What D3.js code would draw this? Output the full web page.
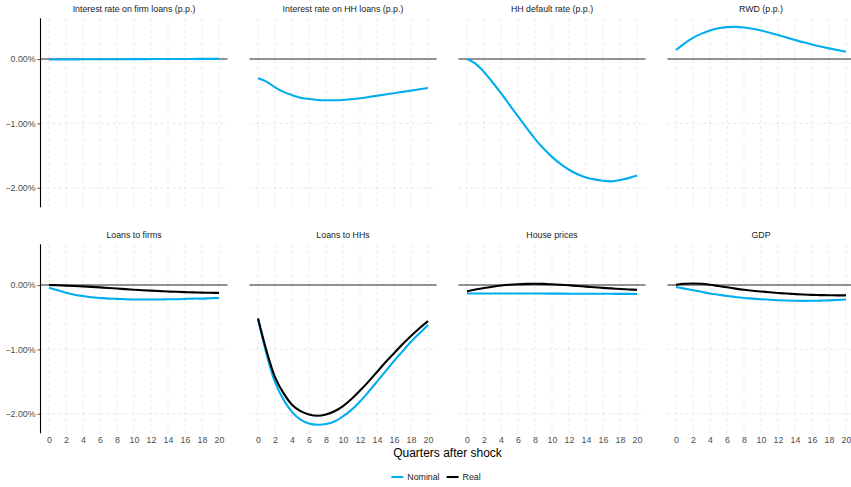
<!DOCTYPE html>
<html>
<head>
<meta charset="utf-8">
<script src="https://cdn.jsdelivr.net/npm/d3@7"></script>
<style>
  html, body { margin: 0; padding: 0; background: #fff; }
  svg { display: block; font-family: "Liberation Sans", Arial, Helvetica, sans-serif; }
</style>
</head>
<body>
<svg id="chart" width="851" height="487"></svg>
<script>
// Quarters after the shock (x axis)
const quarters = d3.range(0, 21);
const xTicks = d3.range(0, 21, 2);
const yTicks = [-2, -1, 0];

const panelTitles = [
  "Interest rate on firm loans (p.p.)", "Interest rate on HH loans (p.p.)", "HH default rate (p.p.)", "RWD (p.p.)",
  "Loans to firms", "Loans to HHs", "House prices", "GDP"
];

// Responses in % (or percentage points), quarters 0..20
const rateFirmNominal = [-0.006, -0.006, -0.005, -0.005, -0.004, -0.004, -0.003, -0.003, -0.002, -0.002, -0.001,
  -0.001, 0.000, 0.000, 0.001, 0.001, 0.002, 0.002, 0.003, 0.003, 0.004];
const rateHHNominal = [-0.30, -0.35, -0.44, -0.51, -0.56, -0.60, -0.62, -0.635, -0.64, -0.64, -0.635,
  -0.625, -0.61, -0.59, -0.57, -0.55, -0.53, -0.51, -0.49, -0.47, -0.45];
const defaultNominal = [0.0, -0.07, -0.20, -0.36, -0.53, -0.71, -0.89, -1.07, -1.24, -1.39, -1.52,
  -1.63, -1.72, -1.79, -1.84, -1.87, -1.89, -1.90, -1.88, -1.85, -1.81];
const rwdNominal = [0.14, 0.245, 0.33, 0.395, 0.445, 0.478, 0.496, 0.50, 0.49, 0.47, 0.443,
  0.41, 0.373, 0.335, 0.297, 0.26, 0.226, 0.195, 0.166, 0.14, 0.115];

const loansFirmsNominal = [-0.04, -0.08, -0.12, -0.15, -0.17, -0.19, -0.20, -0.21, -0.215, -0.22, -0.225,
  -0.225, -0.225, -0.225, -0.22, -0.22, -0.215, -0.21, -0.21, -0.205, -0.20];
const loansFirmsReal = [0.0, -0.003, -0.008, -0.014, -0.02, -0.028, -0.036, -0.045, -0.054, -0.063, -0.072,
  -0.08, -0.087, -0.094, -0.10, -0.105, -0.11, -0.114, -0.117, -0.12, -0.122];
const loansHHNominal = [-0.52, -1.07, -1.51, -1.78, -1.97, -2.09, -2.15, -2.17, -2.16, -2.12, -2.04,
  -1.94, -1.81, -1.66, -1.50, -1.34, -1.18, -1.03, -0.88, -0.75, -0.62];
const loansHHReal = [-0.52, -1.02, -1.43, -1.68, -1.86, -1.96, -2.01, -2.03, -2.01, -1.96, -1.88,
  -1.77, -1.64, -1.50, -1.35, -1.20, -1.06, -0.92, -0.79, -0.67, -0.56];
const housePricesNominal = [-0.13, -0.13, -0.13, -0.13, -0.13, -0.13, -0.131, -0.131, -0.132, -0.132, -0.133,
  -0.133, -0.134, -0.134, -0.135, -0.135, -0.136, -0.136, -0.137, -0.137, -0.138];
const housePricesReal = [-0.095, -0.07, -0.045, -0.025, -0.008, 0.005, 0.013, 0.018, 0.02, 0.018, 0.012,
  0.005, -0.004, -0.014, -0.024, -0.034, -0.044, -0.052, -0.06, -0.068, -0.075];
const gdpNominal = [-0.03, -0.055, -0.08, -0.105, -0.13, -0.15, -0.17, -0.185, -0.20, -0.21, -0.22,
  -0.228, -0.235, -0.24, -0.243, -0.245, -0.244, -0.242, -0.238, -0.232, -0.225];
const gdpReal = [0.005, 0.02, 0.025, 0.02, 0.005, -0.015, -0.035, -0.055, -0.073, -0.088, -0.10,
  -0.112, -0.123, -0.132, -0.14, -0.147, -0.152, -0.156, -0.158, -0.16, -0.16];

const seriesNames = ["Nominal", "Real"];
const seriesColors = { Nominal: "#00aeef", Real: "#000000" };

const panels = [
  { title: panelTitles[0], Nominal: rateFirmNominal },
  { title: panelTitles[1], Nominal: rateHHNominal },
  { title: panelTitles[2], Nominal: defaultNominal },
  { title: panelTitles[3], Nominal: rwdNominal },
  { title: panelTitles[4], Nominal: loansFirmsNominal, Real: loansFirmsReal },
  { title: panelTitles[5], Nominal: loansHHNominal, Real: loansHHReal },
  { title: panelTitles[6], Nominal: housePricesNominal, Real: housePricesReal },
  { title: panelTitles[7], Nominal: gdpNominal, Real: gdpReal }
];

// Facet geometry
const panelLeft = 40.5, colStep = 209, panelW = 187;
const rowTops = [18.3, 244.3], panelH = 189;

// Shared scales with 5% padding like the facet defaults
const xScale = d3.scaleLinear().domain([-1, 21]).range([0, panelW]);
const allVals = panels.flatMap(p => seriesNames.flatMap(s => p[s] || []));
const [yMin, yMax] = d3.extent(allVals);
const pad = (yMax - yMin) * 0.05;
const yScale = d3.scaleLinear().domain([yMin - pad, yMax + pad]).range([panelH, 0]);

const fmt = d => d3.format(".2f")(d).replace("-", "\u2212") + "%";

const svg = d3.select("#chart");

panels.forEach((p, i) => {
  const row = Math.floor(i / 4), col = i % 4;
  const g = svg.append("g")
    .attr("transform", `translate(${panelLeft + col * colStep},${rowTops[row]})`);

  // grid
  g.append("g").selectAll("line").data(xTicks).join("line")
    .attr("x1", d => xScale(d)).attr("x2", d => xScale(d))
    .attr("y1", 0).attr("y2", panelH)
    .attr("stroke", "#e3e3e3").attr("stroke-width", 0.8).attr("stroke-dasharray", "3,3");
  g.append("g").selectAll("line").data(yTicks).join("line")
    .attr("x1", 0).attr("x2", panelW)
    .attr("y1", d => yScale(d)).attr("y2", d => yScale(d))
    .attr("stroke", "#e3e3e3").attr("stroke-width", 0.8).attr("stroke-dasharray", "3,3");

  // zero reference line
  g.append("line")
    .attr("x1", 0).attr("x2", panelW)
    .attr("y1", yScale(0)).attr("y2", yScale(0))
    .attr("stroke", row === 0 ? "#2b2b2b" : "#6e6e6e")
    .attr("stroke-width", row === 0 ? 1.1 : 1.4);

  // strip title
  g.append("text")
    .attr("x", panelW / 2).attr("y", -6)
    .attr("text-anchor", "middle")
    .attr("font-size", 8.8).attr("fill", "#1a1a1a")
    .text(p.title);

  // response lines
  const line = d3.line()
    .x((d, j) => xScale(quarters[j]))
    .y(d => yScale(d))
    .curve(d3.curveCatmullRom);
  seriesNames.forEach(s => {
    if (!p[s]) return;
    g.append("path")
      .datum(p[s])
      .attr("d", line)
      .attr("fill", "none")
      .attr("stroke", seriesColors[s])
      .attr("stroke-width", 2.1)
      .attr("stroke-linejoin", "round");
  });

  // y axis on the first column
  if (col === 0) {
    const ya = g.append("g").call(d3.axisLeft(yScale).tickValues(yTicks).tickSize(3).tickPadding(2).tickFormat(fmt));
    ya.select(".domain").remove();
    ya.selectAll(".tick line").attr("stroke", "#555");
    ya.selectAll(".tick text").attr("font-size", 8.8).attr("fill", "#4d4d4d").attr("font-family", null);
    g.append("line")
      .attr("x1", 0).attr("x2", 0).attr("y1", 0).attr("y2", panelH)
      .attr("stroke", "#000").attr("stroke-width", 1.1);
  }

  // x tick labels on the bottom row
  if (row === 1) {
    const xa = g.append("g").attr("transform", `translate(0,${panelH})`)
      .call(d3.axisBottom(xScale).tickValues(xTicks).tickSize(0).tickPadding(3));
    xa.select(".domain").remove();
    xa.selectAll(".tick text").attr("font-size", 8.8).attr("fill", "#4d4d4d").attr("font-family", null);
  }
});

// x axis title
const centerX = panelLeft + (3 * colStep + panelW) / 2;
svg.append("text")
  .attr("x", centerX).attr("y", 457)
  .attr("text-anchor", "middle")
  .attr("font-size", 12).attr("fill", "#000")
  .text("Quarters after shock");

// legend
const legend = svg.append("g");
let lx = 0;
seriesNames.forEach(s => {
  const item = legend.append("g").attr("transform", `translate(${lx},0)`);
  item.append("line").attr("x1", 0).attr("x2", 12).attr("y1", 0).attr("y2", 0)
    .attr("stroke", seriesColors[s]).attr("stroke-width", 2.1);
  const t = item.append("text").attr("x", 16).attr("y", 3.1)
    .attr("font-size", 8.8).attr("fill", "#1a1a1a").text(s);
  lx += 16 + t.node().getComputedTextLength() + 7;
});
const legendW = lx - 7;
legend.attr("transform", `translate(${436 - legendW / 2},477)`);
</script>
</body>
</html>
